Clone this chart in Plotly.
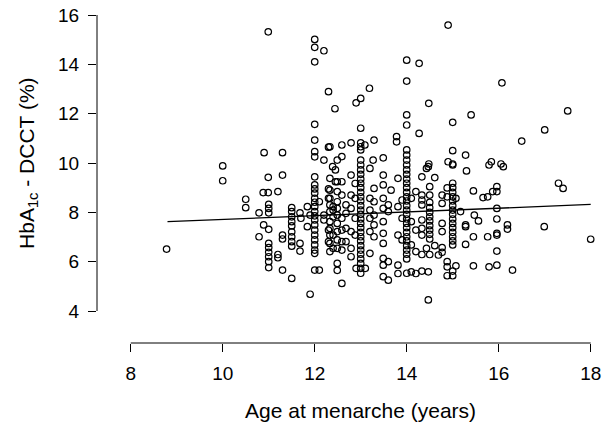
import plotly.graph_objects as go

# age at menarche (years) / HbA1c - DCCT (%), grouped by age band
age_early = [8.78, 10.0, 10.0, 10.5, 10.5, 10.99, 10.9, 11.3, 10.99, 11.3,
             10.88, 10.99, 11.2, 11.0, 11.0, 11.0, 10.79, 10.89, 11.0, 10.79,
             11.0, 11.0, 11.0, 11.0, 11.0, 11.0, 11.2, 11.2, 11.3, 11.3, 11.3,
             11.5, 11.5, 11.5, 11.5, 11.5, 11.5, 11.5, 11.5, 11.5, 11.5,
             11.84, 11.68, 11.7, 11.84, 11.9, 11.68, 11.68, 11.9]
hba_early = [6.51, 9.88, 9.28, 8.53, 8.19, 15.32, 10.42, 10.42, 9.42, 9.51,
             8.8, 8.8, 8.84, 8.32, 8.16, 7.98, 7.98, 7.49, 7.31, 7.01,
             6.74, 6.57, 6.38, 6.2, 6.0, 5.76, 6.29, 6.16, 7.08, 6.92, 5.66,
             8.19, 8.03, 7.82, 7.62, 7.45, 7.21, 7.01, 6.81, 6.63, 5.32,
             8.23, 7.98, 7.76, 7.42, 7.89, 6.74, 6.43, 4.68]

age_12 = [12.0] * 25 + [12.1, 12.2, 12.3, 12.44, 12.3, 12.2, 12.33, 12.59, 12.79, 12.49, 12.59,
                        12.1, 12.2, 12.2, 12.3, 12.3, 12.3, 12.3, 12.4, 12.4, 12.4, 12.45, 12.45] \
    + [12.33] * 10 + [12.4, 12.4] + [12.49] * 11 + [12.59] * 7 + [12.68] * 4 + [12.79] * 6 \
    + [12.88, 12.88, 12.88, 12.88, 12.9, 12.9, 12.39]
hba_12 = [15.01, 14.69, 14.1, 11.57, 10.93, 10.46, 10.25, 9.44, 9.11, 8.95, 8.78, 8.57, 8.41,
          8.23, 8.03, 7.86, 7.69, 7.49, 7.28, 7.08, 6.88, 6.68, 6.47, 6.34, 5.66] \
    + [5.66, 14.55, 12.89, 12.2, 10.64, 10.12, 10.66, 10.73, 10.82, 10.12, 10.26,
       8.43, 7.89, 7.69, 8.95, 8.57, 7.28, 6.81, 8.23, 7.08, 6.54, 9.72, 9.24] \
    + [9.38, 8.90, 8.57, 8.30, 8.03, 7.62, 7.35, 7.08, 6.74, 6.41] + [8.09, 7.82] \
    + [9.24, 8.84, 8.43, 8.16, 7.89, 7.55, 7.22, 6.88, 6.54, 5.93, 5.65] \
    + [9.24, 8.70, 7.76, 7.28, 6.81, 6.47, 5.12] + [8.30, 7.96, 7.35, 6.81] \
    + [9.51, 8.70, 8.16, 7.22, 6.54, 6.20] + [9.17, 8.57, 7.76, 7.08, 12.44, 5.73, 9.85]

age_13 = [13.0] * 31 + [13.1, 13.19, 13.09, 13.29, 13.27, 13.49, 13.78, 13.78] \
    + [13.2] * 6 + [13.29] * 5 + [13.49] * 10 + [13.6, 13.6, 13.6, 13.6, 13.66] \
    + [13.81] * 5 + [13.9] * 3
hba_13 = [12.62, 11.41, 10.82, 10.66, 10.53, 10.12, 9.92, 9.72, 9.54, 9.35, 9.18, 9.0, 8.81,
          8.63, 8.46, 8.27, 8.09, 7.92, 7.73, 7.55, 7.38, 7.19, 7.01, 6.84, 6.65, 6.47, 6.3,
          6.11, 5.93, 5.73, 5.53] \
    + [5.73, 13.03, 10.73, 10.93, 10.12, 10.21, 11.07, 10.86] \
    + [9.78, 8.57, 8.09, 7.76, 7.22, 6.34] + [8.97, 8.43, 7.89, 7.49, 7.01] \
    + [9.51, 9.11, 8.57, 8.16, 7.62, 7.15, 6.74, 6.13, 5.86, 5.39] \
    + [8.30, 8.03, 6.00, 5.25, 8.90] + [9.38, 8.23, 7.08, 5.86, 5.52] + [8.50, 7.76, 6.88]

age_14 = [14.0] * 30 + [14.27, 14.27, 14.48, 14.9] + [14.1] * 4 + [14.2] * 4 \
    + [14.43, 14.33, 14.47, 14.61, 14.48, 14.9] + [14.5] * 11 + [14.33] * 8 \
    + [14.77] * 6 + [14.88] * 5 + [14.43, 14.5, 14.69, 14.61, 14.47, 14.47]
hba_14 = [14.17, 13.32, 11.95, 11.54, 10.53, 10.32, 10.12, 9.92, 9.72, 9.54, 9.35, 9.18, 9.0,
          8.81, 8.63, 8.46, 8.27, 8.09, 7.92, 7.73, 7.55, 7.38, 7.19, 7.01, 6.84, 6.65, 6.47,
          6.3, 6.11, 5.53] \
    + [14.04, 11.2, 12.42, 15.59] + [8.57, 7.62, 6.68, 5.59] + [8.84, 7.28, 6.41, 5.52] \
    + [9.78, 9.44, 9.85, 9.41, 9.96, 10.05] \
    + [9.04, 8.70, 8.40, 8.19, 8.00, 7.82, 7.65, 7.46, 7.28, 7.11, 6.92] \
    + [8.70, 8.50, 8.30, 7.69, 7.35, 7.08, 6.29, 5.62] + [8.70, 8.36, 7.55, 7.22, 6.38, 6.57] \
    + [8.99, 8.63, 6.00, 5.79, 5.43] + [6.54, 6.29, 6.27, 6.65, 5.59, 4.45]

age_late = [15.0] * 21 + [15.28, 15.4, 15.3, 15.07, 15.17, 15.28, 15.28, 15.45, 15.47, 15.56,
                          15.66, 15.76, 15.87, 15.96, 15.96, 15.96, 15.96, 15.45, 15.76, 15.96,
                          15.96, 15.28, 15.07, 15.45, 15.79, 15.96, 15.96, 15.84, 16.05, 15.79,
                          16.1, 16.07, 16.5, 17.0, 17.5, 17.3, 17.4, 16.19, 16.19, 16.99, 16.3, 18.0]
hba_late = [11.65, 10.5, 9.96, 9.92, 9.18, 9.0, 8.81, 8.63, 8.46, 8.27, 8.09, 7.92, 7.73, 7.55,
            7.38, 7.19, 7.01, 6.84, 6.68, 5.62, 5.43] \
    + [10.32, 11.95, 9.68, 8.57, 8.03, 7.49, 7.42, 8.87, 7.89, 7.65,
       8.60, 8.63, 8.84, 9.04, 8.84, 8.16, 7.73, 7.01, 7.01, 7.15,
       7.08, 6.70, 5.83, 5.83, 5.79, 5.86, 6.43, 10.05, 9.96, 9.92,
       9.85, 13.25, 10.89, 11.34, 12.11, 9.18, 8.97, 7.49, 7.32, 7.42, 5.66, 6.91]

# fitted line end points
fit_age = [8.8, 18.0]
fit_hba = [7.62, 8.32]

x_ticks = [8, 10, 12, 14, 16, 18]
y_ticks = [4, 6, 8, 10, 12, 14, 16]

ages = age_early + age_12 + age_13 + age_14 + age_late
hba = hba_early + hba_12 + hba_13 + hba_14 + hba_late

font = "Liberation Sans, Arial, Helvetica, sans-serif"

fig = go.Figure()
fig.add_trace(go.Scatter(x=ages, y=hba, mode="markers", cliponaxis=False,
                         marker=dict(symbol="circle-open", size=6.5, color="black",
                                     line=dict(width=1.2, color="black"))))
fig.add_trace(go.Scatter(x=fit_age, y=fit_hba, mode="lines",
                         line=dict(color="black", width=1.3)))

# R-style detached axes
fig.add_shape(type="line", xref="x", yref="paper", x0=8, x1=18, y0=0, y1=0,
              line=dict(color="black", width=1))
fig.add_shape(type="line", xref="paper", yref="y", x0=0, x1=0, y0=4, y1=16,
              line=dict(color="black", width=1))

fig.update_xaxes(range=[7.267, 18.311], tickvals=x_ticks, ticks="outside", ticklen=8,
                 tickcolor="black", showline=False, showgrid=False, zeroline=False,
                 automargin=False, ticklabeloverflow="allow",
                 tickfont=dict(size=19, color="black", family=font), ticklabelstandoff=5)
fig.update_yaxes(range=[2.703, 16.203], tickvals=y_ticks, ticks="outside", ticklen=8,
                 tickcolor="black", showline=False, showgrid=False, zeroline=False,
                 automargin=False, ticklabeloverflow="allow",
                 tickfont=dict(size=19, color="black", family=font), ticklabelstandoff=5)

fig.add_annotation(text="Age at menarche (years)", xref="paper", yref="paper",
                   x=0.519, y=-0.204, xanchor="center", yanchor="middle", showarrow=False,
                   font=dict(size=21, color="black", family=font))
fig.add_annotation(text="HbA<sub>1c</sub> - DCCT (%)", xref="paper", yref="paper",
                   x=-0.136, y=0.5405, xanchor="center", yanchor="middle", showarrow=False,
                   textangle=-90, font=dict(size=21, color="black", family=font))

# the page body adds an 8 px offset, so the figure is 8 px smaller on each side
fig.update_layout(width=602, height=418, showlegend=False,
                  margin=dict(l=89, r=5, t=2, b=83),
                  plot_bgcolor="white", paper_bgcolor="white")

fig.write_html("out.html")
